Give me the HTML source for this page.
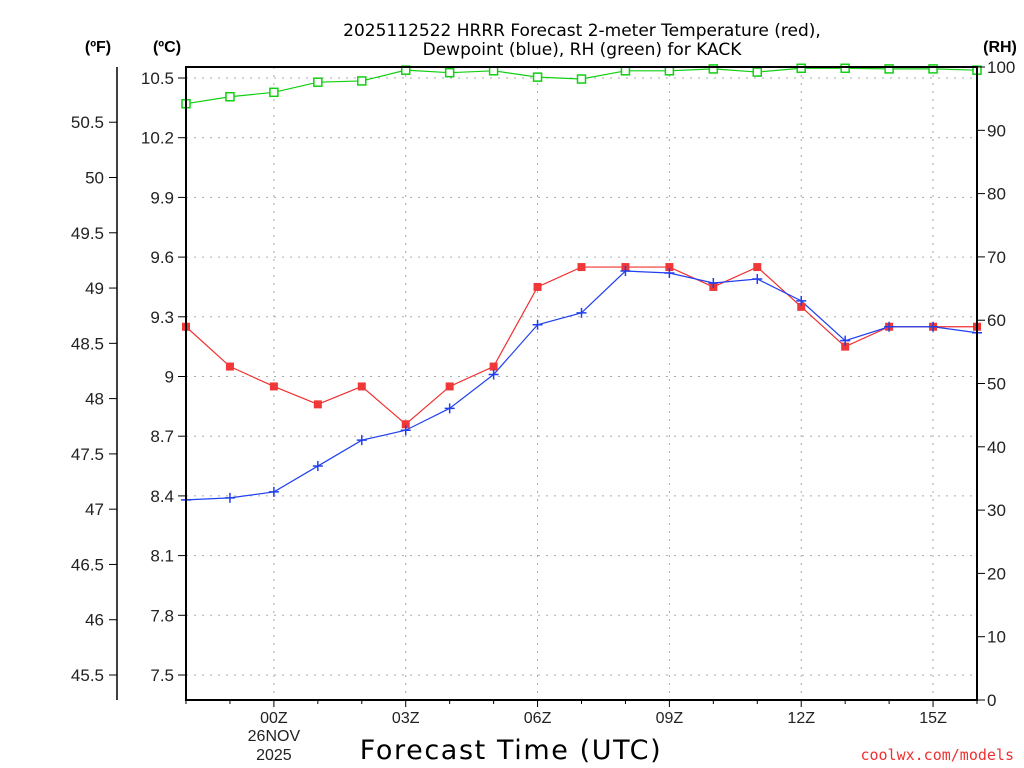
<!DOCTYPE html>
<html><head><meta charset="utf-8"><style>
body{margin:0;background:#fff}
svg{display:block;font-family:"Liberation Sans","DejaVu Sans",sans-serif}
</style></head><body>
<svg id="chart" width="1024" height="768" xmlns="http://www.w3.org/2000/svg">
<g id="grid"></g>
<g id="series"></g>
<g id="axes"></g>
<text x="582" y="36" text-anchor="middle" font-size="17" font-family="DejaVu Sans,sans-serif">2025112522 HRRR Forecast 2-meter Temperature (red),</text>
<text x="582" y="55" text-anchor="middle" font-size="17" font-family="DejaVu Sans,sans-serif">Dewpoint (blue), RH (green) for KACK</text>
<text x="98" y="52" text-anchor="middle" font-size="16" font-weight="bold">(ºF)</text>
<text x="167" y="52" text-anchor="middle" font-size="16" font-weight="bold">(ºC)</text>
<text x="1000" y="52" text-anchor="middle" font-size="16" font-weight="bold">(RH)</text>
<text x="511" y="759" text-anchor="middle" font-size="27" letter-spacing="1.6" font-family="DejaVu Sans,sans-serif">Forecast Time (UTC)</text>
<text x="1014" y="760" text-anchor="end" font-size="15" fill="#f03030" font-family="DejaVu Sans Mono,monospace">coolwx.com/models</text>
</svg>
<script>
const hours = [22,23,0,1,2,3,4,5,6,7,8,9,10,11,12,13,14,15,16];
const tempC = [9.25,9.05,8.95,8.86,8.95,8.76,8.95,9.05,9.45,9.55,9.55,9.55,9.45,9.55,9.35,9.15,9.25,9.25,9.25];
const dewC = [8.38,8.39,8.42,8.55,8.68,8.73,8.84,9.01,9.26,9.32,9.53,9.52,9.47,9.49,9.38,9.18,9.25,9.25,9.22];
const rh = [94.2,95.3,96.0,97.6,97.8,99.5,99.1,99.4,98.4,98.1,99.4,99.4,99.7,99.2,99.8,99.8,99.7,99.7,99.5];
const cTicks = ["7.5","7.8","8.1","8.4","8.7","9","9.3","9.6","9.9","10.2","10.5"];
const fTicks = ["45.5","46","46.5","47","47.5","48","48.5","49","49.5","50","50.5"];
const rhTicks = ["0","10","20","30","40","50","60","70","80","90","100"];
const xTickLabels = ["00Z","03Z","06Z","09Z","12Z","15Z"];

const NS="http://www.w3.org/2000/svg";
const L=186,R=977,T=67,B=700;
const xOf=i=>L+i*(R-L)/18;
const yC=c=>675-(c-7.5)*199;
const yF=f=>yC((f-32)*5/9);
const yRH=v=>B-v*(B-T)/100;
function mk(tag,attrs,parent){const e=document.createElementNS(NS,tag);for(const k in attrs)e.setAttribute(k,attrs[k]);parent.appendChild(e);return e;}
const grid=document.getElementById('grid'),ser=document.getElementById('series'),ax=document.getElementById('axes');
cTicks.forEach(t=>{const y=yC(+t);
 const g=mk('line',{x1:L,x2:R,y1:y,y2:y,stroke:'#aaa','stroke-dasharray':'2,6'},grid);
 
 
 mk('line',{x1:L-8,x2:L,y1:y,y2:y,stroke:'#000'},ax);
 const tx=mk('text',{x:L-12,y:y+6,'text-anchor':'end','font-size':'17',fill:'#222'},ax);tx.textContent=t;
 
 
});
fTicks.forEach(t=>{const y=yF(+t);
 mk('line',{x1:109,x2:117,y1:y,y2:y,stroke:'#000'},ax);
 const tx=mk('text',{x:104,y:y+6,'text-anchor':'end','font-size':'17',fill:'#222'},ax);tx.textContent=t;
 
 
});
rhTicks.forEach(t=>{const y=yRH(+t);
 mk('line',{x1:R,x2:R+8,y1:y,y2:y,stroke:'#000'},ax);
 const tx=mk('text',{x:R+10,y:y+6,'font-size':'17',fill:'#222'},ax);tx.textContent=t;
 
 
});
xTickLabels.forEach((t,k)=>{const i=2+3*k,x=xOf(i);
 const g=mk('line',{x1:x,x2:x,y1:T,y2:B,stroke:'#aaa','stroke-dasharray':'2,6'},grid);
 
 
 mk('line',{x1:x,x2:x,y1:B,y2:B+7,stroke:'#000'},ax);
 const tx=mk('text',{x:x,y:723,'text-anchor':'middle','font-size':'16',fill:'#222'},ax);tx.textContent=t;
 
 
});
[["26NOV",741],["2025",760]].forEach(([s,y])=>{const tx=mk('text',{x:xOf(2),y:y,'text-anchor':'middle','font-size':'16',fill:'#222'},ax);tx.textContent=s;
 
 });
for(let i=0;i<19;i++){if((i-2)%3!==0)mk('line',{x1:xOf(i),x2:xOf(i),y1:B,y2:B+4,stroke:'#000'},ax);}
mk('rect',{x:L,y:T,width:R-L,height:B-T,fill:'none',stroke:'#000','stroke-width':2},ax);
mk('line',{x1:117,x2:117,y1:T,y2:B,stroke:'#000','stroke-width':1.5},ax);
function line(vals,fy,color,name){
 const p=mk('polyline',{points:vals.map((v,i)=>xOf(i)+','+fy(v)).join(' '),fill:'none',stroke:color,'stroke-width':1.2},ser);
 
 
}
line(rh,yRH,'#10d010','rh');line(tempC,yC,'#f03030','temperature');line(dewC,yC,'#2040f0','dewpoint');
rh.forEach((v,i)=>{const m=mk('rect',{x:xOf(i)-4,y:yRH(v)-4,width:8,height:8,fill:'#fff',stroke:'#10d010','stroke-width':1.5},ser);
 
 });
tempC.forEach((v,i)=>{const m=mk('rect',{x:xOf(i)-4,y:yC(v)-4,width:8,height:8,fill:'#f03838'},ser);
 
 });
dewC.forEach((v,i)=>{const x=xOf(i),y=yC(v);
 const m=mk('path',{d:`M${x-5},${y}H${x+5}M${x},${y-5}V${y+5}`,stroke:'#2040f0','stroke-width':1.5},ser);
 
 });
</script>
</body></html>
